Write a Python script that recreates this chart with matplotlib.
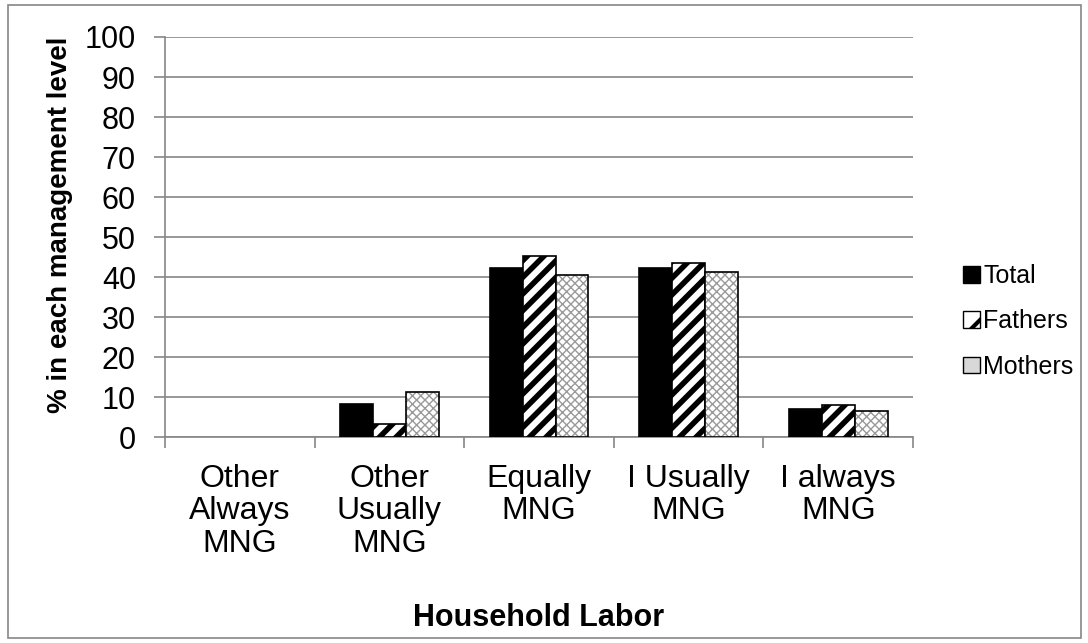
import matplotlib.pyplot as plt
from matplotlib.patches import Rectangle
import numpy as np

categorias = ['Other\nAlways\nMNG', 'Other\nUsually\nMNG', 'Equally\nMNG',
              'I Usually\nMNG', 'I always\nMNG']
total = [0, 8.4, 42.2, 42.2, 7.0]
padres = [0, 3.2, 45.4, 43.6, 8.0]
madres = [0, 11.4, 40.5, 41.4, 6.6]
series = ['Total', 'Fathers', 'Mothers']
yticks = list(range(0, 101, 10))

plt.rcParams['font.family'] = ['Liberation Sans', 'DejaVu Sans']

gris = '#868686'
fig = plt.figure(figsize=(10.88, 6.43), dpi=100)
fig.patches.append(Rectangle((0.007, 0.008), 0.987, 0.985, transform=fig.transFigure,
                             fill=False, edgecolor=gris, linewidth=1.2))
ax = fig.add_axes([0.1517, 0.3199, 0.6875, 0.6226])

x = np.arange(len(categorias))
w = 0.22

def grosor(vals):
    # sin borde en barras de altura cero
    return [1.2 if v > 0 else 0 for v in vals]

ax.bar(x - w, total, w, color='black', edgecolor='black', linewidth=grosor(total), zorder=3)
with plt.rc_context({'hatch.linewidth': 4.0}):
    ax.bar(x, padres, w, color='white', edgecolor='black', hatch='//',
           linewidth=grosor(padres), zorder=3)
# madres: trama gris fina y borde negro encima
with plt.rc_context({'hatch.linewidth': 1.0}):
    ax.bar(x + w, madres, w, color='white', edgecolor='#9a9a9a', hatch='xxxx',
           linewidth=0, zorder=3)
ax.bar(x + w, madres, w, fill=False, edgecolor='black', linewidth=grosor(madres), zorder=4)

ax.set_xlim(-0.5, len(categorias) - 0.5)
ax.set_ylim(0, 100)
ax.set_yticks(yticks)
ax.yaxis.grid(True, color=gris, linewidth=1.2, zorder=0)
ax.set_axisbelow(True)
for s in ['top', 'right']:
    ax.spines[s].set_visible(False)
ax.spines['left'].set_color(gris)
ax.spines['bottom'].set_color(gris)
ax.spines['left'].set_linewidth(1.2)
ax.spines['bottom'].set_linewidth(1.2)

ax.set_xticks(x)
ax.set_xticklabels(categorias, fontsize=23, linespacing=1.12)
ax.tick_params(axis='x', length=0, pad=19)
ax.set_xticks(np.arange(-0.5, len(categorias)), minor=True)
ax.tick_params(axis='x', which='minor', length=8, color=gris, width=1.2)
ax.tick_params(axis='y', labelsize=22, length=8, color=gris, width=1.2, pad=13)

ax.set_ylabel('% in each management level', fontsize=20, fontweight='bold', va='center')
ax.yaxis.set_label_coords(-0.14, 0.53)
ax.set_xlabel('Household Labor', fontsize=22, fontweight='bold')
ax.xaxis.set_label_coords(0.5, -0.415)

with plt.rc_context({'hatch.linewidth': 3.0}):
    handles = [Rectangle((0, 0), 1, 1, facecolor='black', edgecolor='black'),
               Rectangle((0, 0), 1, 1, facecolor='white', edgecolor='black', hatch='/'),
               Rectangle((0, 0), 1, 1, facecolor='#d8d8d8', edgecolor='black')]
    fig.legend(handles, series, loc='center left', bbox_to_anchor=(0.874, 0.50),
               frameon=False, fontsize=18, handlelength=0.65, handleheight=0.65,
               handletextpad=0.15, labelspacing=0.85, borderpad=0)

fig.savefig('out.png', dpi=100)
